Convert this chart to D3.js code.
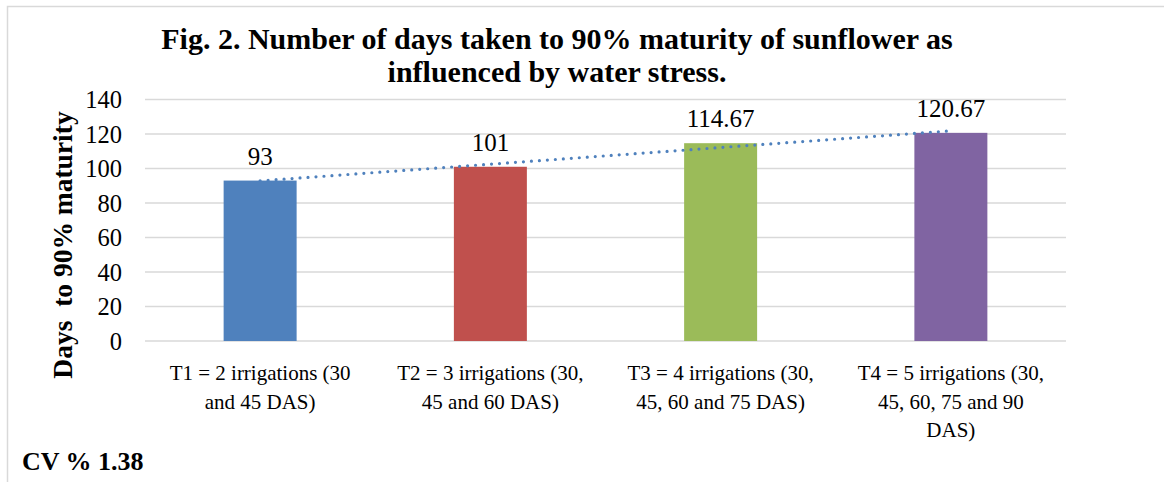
<!DOCTYPE html>
<html><head><meta charset="utf-8">
<script src="https://cdn.jsdelivr.net/npm/d3@7"></script>
<style>body{margin:0;background:#fff}svg{display:block}</style>
</head><body>
<svg id="c" width="1164" height="482"></svg>
<script>
const categories = ["T1","T2","T3","T4"];
const categoryLabels = [
  ["T1 = 2 irrigations (30", "and 45 DAS)"],
  ["T2 = 3 irrigations (30,", "45 and 60 DAS)"],
  ["T3 = 4 irrigations (30,", "45, 60 and 75 DAS)"],
  ["T4 = 5 irrigations (30,", "45, 60, 75 and 90", "DAS)"]
];
const values = [93, 101, 114.67, 120.67];
const valueLabels = ["93", "101", "114.67", "120.67"];
const colors = ["#4F81BD", "#C0504D", "#9BBB59", "#8064A2"];
const yTicks = [0, 20, 40, 60, 80, 100, 120, 140];
const titleLines = ["Fig. 2. Number of days taken to 90% maturity of sunflower as", "influenced by water stress."];
const yTitle = "Days  to 90% maturity";
const note = "CV % 1.38";

const FONT = "'Liberation Serif', 'Times New Roman', serif";
const svg = d3.select("#c");
svg.append("rect").attr("x", 7.5).attr("y", 6.5).attr("width", 1170).attr("height", 490)
  .attr("fill", "none").attr("stroke", "#d9d9d9").attr("stroke-width", 1.5);

const x = d3.scaleBand().domain(categories).range([145, 1066]).paddingInner(0).paddingOuter(0);
const y = d3.scaleLinear().domain([0, 140]).range([341, 99.5]);
const barW = x.bandwidth() * 0.317;

// gridlines
svg.append("g").selectAll("line").data(yTicks).join("line")
  .attr("x1", 145).attr("x2", 1066)
  .attr("y1", d => y(d)).attr("y2", d => y(d))
  .attr("stroke", "#d9d9d9").attr("stroke-width", 1.5);

// y tick labels
svg.append("g").selectAll("text").data(yTicks).join("text")
  .attr("x", 122).attr("y", d => y(d)).attr("dy", "0.35em")
  .attr("text-anchor", "end").attr("font-family", FONT).attr("font-size", 24.5)
  .attr("fill", "#000").text(d => d);

// bars
svg.append("g").selectAll("rect").data(values).join("rect")
  .attr("x", (d, i) => x(categories[i]) + x.bandwidth() / 2 - barW / 2)
  .attr("width", barW)
  .attr("y", d => y(d)).attr("height", d => y(0) - y(d))
  .attr("fill", (d, i) => colors[i]);

// value labels
svg.append("g").selectAll("text").data(values).join("text")
  .attr("x", (d, i) => x(categories[i]) + x.bandwidth() / 2)
  .attr("y", d => y(d) - 16)
  .attr("text-anchor", "middle").attr("font-family", FONT).attr("font-size", 25)
  .text((d, i) => valueLabels[i]);

// linear trendline (least squares)
const xs = values.map((d, i) => i + 1);
const mx = d3.mean(xs), my = d3.mean(values);
const slope = d3.sum(xs, (xi, i) => (xi - mx) * (values[i] - my)) / d3.sum(xs, xi => (xi - mx) ** 2);
const icpt = my - slope * mx;
const cx = i => x(categories[i]) + x.bandwidth() / 2;
svg.append("line")
  .attr("x1", cx(0)).attr("y1", y(icpt + slope * 1))
  .attr("x2", cx(3)).attr("y2", y(icpt + slope * 4))
  .attr("stroke", "#4F81BD").attr("stroke-width", 3.2)
  .attr("stroke-linecap", "round").attr("stroke-dasharray", "0,8");

// category labels
const cl = svg.append("g");
categoryLabels.forEach((lines, i) => {
  const t = cl.append("text").attr("text-anchor", "middle").attr("font-family", FONT).attr("font-size", 21);
  lines.forEach((ln, j) => {
    t.append("tspan").attr("x", cx(i)).attr("y", 380 + j * 28.5).text(ln);
  });
});

// title
const tt = svg.append("text").attr("text-anchor", "middle").attr("font-family", FONT)
  .attr("font-weight", "bold").attr("font-size", 30);
titleLines.forEach((ln, j) => tt.append("tspan").attr("x", 557).attr("y", 49 + j * 33).text(ln));

// y-axis title
svg.append("text").attr("transform", "translate(72,245) rotate(-90)")
  .attr("text-anchor", "middle").attr("font-family", FONT).attr("font-weight", "bold")
  .attr("font-size", 27.5).attr("xml:space", "preserve").style("white-space", "pre").text(yTitle);

// note
svg.append("text").attr("x", 22).attr("y", 470).attr("font-family", FONT)
  .attr("font-weight", "bold").attr("font-size", 26).text(note);
</script>
</body></html>
